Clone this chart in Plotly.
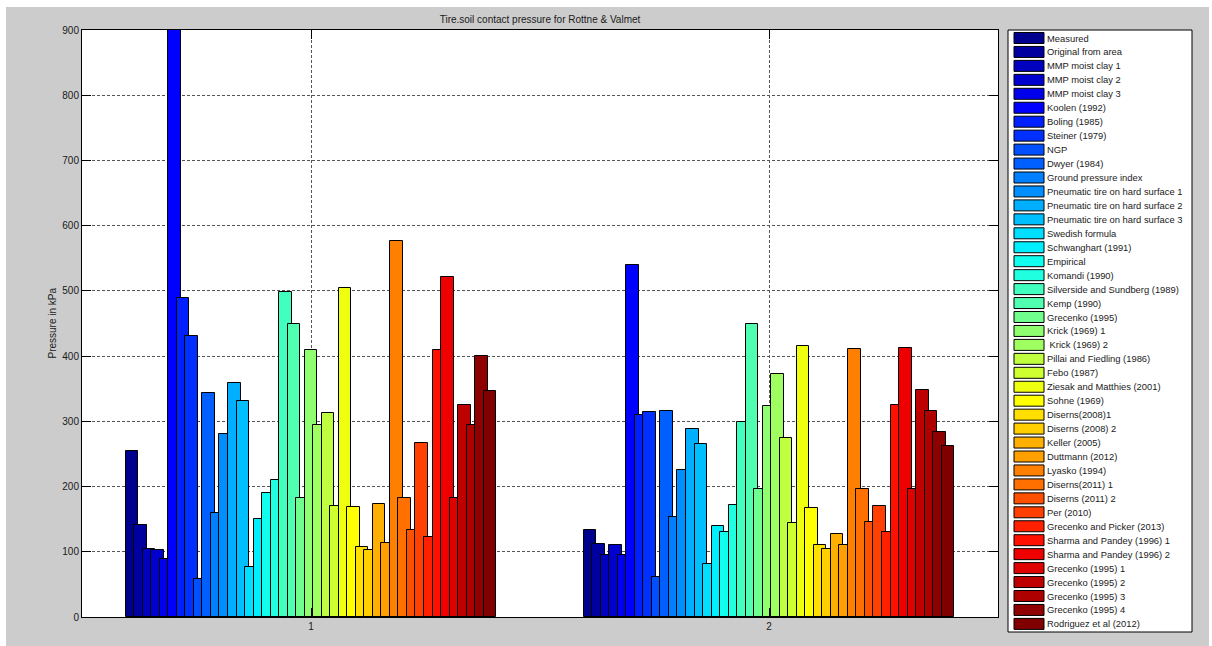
import numpy as np
import plotly.graph_objects as go

# ---------------- data ----------------
series_names = [
    "Measured", "Original from area", "MMP moist clay 1", "MMP moist clay 2",
    "MMP moist clay 3", "Koolen (1992)", "Boling (1985)", "Steiner (1979)", "NGP",
    "Dwyer (1984)", "Ground pressure index", "Pneumatic tire on hard surface 1",
    "Pneumatic tire on hard surface 2", "Pneumatic tire on hard surface 3",
    "Swedish formula", "Schwanghart (1991)", "Empirical", "Komandi (1990)",
    "Silverside and Sundberg (1989)", "Kemp (1990)", "Grecenko (1995)",
    "Krick (1969) 1", " Krick (1969) 2", "Pillai and Fiedling (1986)", "Febo (1987)",
    "Ziesak and Matthies (2001)", "Sohne (1969)", "Diserns(2008)1", "Diserns (2008) 2",
    "Keller (2005)", "Duttmann (2012)", "Lyasko (1994)", "Diserns(2011) 1",
    "Diserns (2011) 2", "Per (2010)", "Grecenko and Picker (2013)",
    "Sharma and Pandey (1996) 1", "Sharma and Pandey (1996) 2", "Grecenko (1995) 1",
    "Grecenko (1995) 2", "Grecenko (1995) 3", "Grecenko (1995) 4",
    "Rodriguez et al (2012)",
]
groups = [1, 2]
values_group1 = [255, 141, 104, 102, 89, 1000, 489, 431, 58, 344, 160, 281, 359, 331,
                 77, 150, 190, 210, 499, 449, 183, 410, 295, 313, 170, 504, 168, 108,
                 102, 173, 114, 576, 183, 134, 267, 122, 409, 521, 183, 325, 295, 400,
                 346]
values_group2 = [133, 112, 95, 110, 95, 539, 309, 315, 61, 316, 153, 226, 289, 266,
                 82, 140, 131, 171, 299, 449, 197, 324, 372, 275, 144, 416, 167, 110,
                 104, 128, 111, 411, 196, 145, 170, 131, 325, 412, 197, 348, 316, 283,
                 262]
title_text = "Tire.soil contact pressure for Rottne & Valmet"
y_label = "Pressure in kPa"
y_ticks = list(range(0, 901, 100))
x_ticks = ["1", "2"]

# ---------------- layout geometry (pixels) ----------------
W, H = 1212, 646
PL, PR, PT, PB = 82, 998, 30, 617
FONT = "Liberation Sans, Arial, Helvetica, sans-serif"
TXT = "#1a1a1a"


def px_x(p):
    return (p - PL) / (PR - PL)


def px_y(p):
    return (PB - p) / (PB - PT)


def jet(m):
    n = int(np.ceil(m / 4))
    u = np.concatenate([np.arange(1, n + 1) / n, np.ones(n - 1), np.arange(n, 0, -1) / n])
    g = int(np.ceil(n / 2)) - (1 if m % 4 == 1 else 0) + np.arange(1, len(u) + 1)
    r = g + n
    b = g - n
    J = np.zeros((m, 3))
    for idx_arr, ch in ((r, 0), (g, 1), (b, 2)):
        for k, idx in enumerate(idx_arr):
            if 1 <= idx <= m:
                J[idx - 1, ch] = u[k]
    return J


cmap = jet(64)
nser = len(series_names)


def series_color(i):
    idx = min(int(np.floor(i / (nser - 1) * 64)), 63)
    c = cmap[idx]
    return "rgb(%d,%d,%d)" % tuple(int(round(v * 255)) for v in c)


group_width = 0.8
spacing = group_width / nser
bar_w = 1.48 * spacing

fig = go.Figure()
for i, name in enumerate(series_names):
    fig.add_trace(go.Bar(
        x=groups,
        y=[values_group1[i], values_group2[i]],
        name=name,
        width=bar_w,
        offset=(i - (nser - 1) / 2) * spacing - bar_w / 2,
        marker=dict(color=series_color(i), line=dict(color="#000000", width=1)),
        showlegend=False,
    ))

shapes = []
# grey figure background (with thin white border like the screenshot)
shapes.append(dict(type="rect", xref="paper", yref="paper", layer="below",
                   x0=px_x(6), x1=px_x(1209), y0=px_y(648), y1=px_y(7),
                   fillcolor="#cccccc", line=dict(width=0)))
# white axes area
shapes.append(dict(type="rect", xref="paper", yref="paper", layer="below",
                   x0=0, x1=1, y0=0, y1=1, fillcolor="#ffffff", line=dict(width=0)))
# legend box
LG_L, LG_R, LG_T, LG_B = 1008, 1192, 30, 632
shapes.append(dict(type="rect", xref="paper", yref="paper", layer="below",
                   x0=px_x(LG_L), x1=px_x(LG_R), y0=px_y(LG_B), y1=px_y(LG_T),
                   fillcolor="#ffffff", line=dict(color="#000000", width=1)))

annotations = []
row0, row_step = 38.0, 13.95
for i, name in enumerate(series_names):
    cy = row0 + i * row_step
    shapes.append(dict(type="rect", xref="paper", yref="paper", layer="below",
                       x0=px_x(1014), x1=px_x(1044), y0=px_y(cy + 5.5), y1=px_y(cy - 5.5),
                       fillcolor=series_color(i), line=dict(color="#000000", width=1)))
    label = name.replace(" ", "\u00a0", 1) if name.startswith(" ") else name
    annotations.append(dict(xref="paper", yref="paper", x=px_x(1045), y=px_y(cy),
                            xanchor="left", yanchor="middle", showarrow=False,
                            text=label, font=dict(family=FONT, size=9.4, color=TXT)))

annotations.append(dict(xref="paper", yref="paper", x=px_x(52), y=0.5,
                        xanchor="center", yanchor="middle", showarrow=False,
                        textangle=-90, text=y_label,
                        font=dict(family=FONT, size=10, color=TXT)))

axis_style = dict(showline=True, linecolor="#000000", linewidth=1, mirror="ticks",
                  ticks="inside", ticklen=9, tickcolor="#000000", tickwidth=1,
                  showgrid=True, gridcolor="#555555", gridwidth=1, griddash="3px,2px",
                  zeroline=False, tickfont=dict(family=FONT, size=10, color=TXT))

fig.update_layout(
    width=W, height=H,
    margin=dict(l=PL, r=W - PR, t=PT, b=H - PB, pad=0, autoexpand=False),
    paper_bgcolor="#ffffff", plot_bgcolor="rgba(0,0,0,0)",
    barmode="overlay", bargap=0, showlegend=False,
    font=dict(family=FONT, size=10, color=TXT),
    title=dict(text=title_text, xref="paper", x=0.5, xanchor="center",
               yref="container", y=1 - 19 / H, yanchor="middle",
               font=dict(family=FONT, size=10, color=TXT)),
    xaxis=dict(range=[0.5, 2.5], tickvals=groups, ticktext=x_ticks, **axis_style),
    yaxis=dict(range=[0, 900], tickvals=y_ticks, ticktext=[str(v) for v in y_ticks],
               **axis_style),
    shapes=shapes,
    annotations=annotations,
)

fig.write_html("out.html", config=dict(displayModeBar=False))
